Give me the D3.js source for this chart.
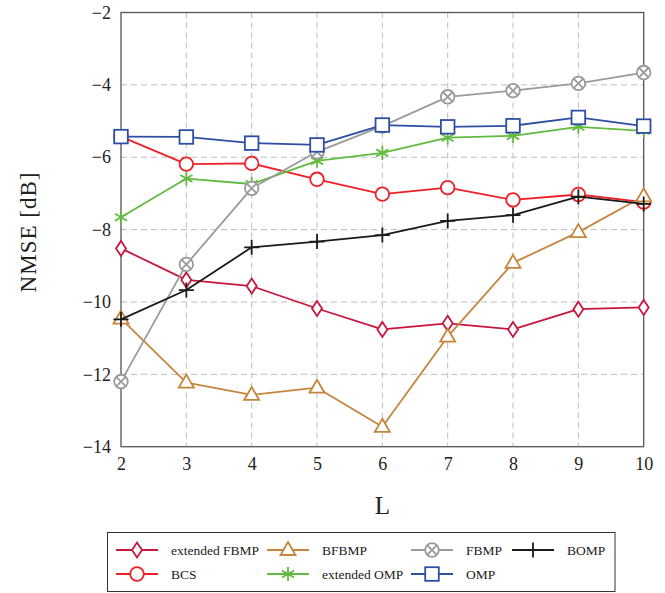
<!DOCTYPE html>
<html>
<head>
<meta charset="utf-8">
<script src="https://cdn.jsdelivr.net/npm/d3@7"></script>
<style>
  html, body { margin: 0; padding: 0; background: #fff; }
  svg { display: block; }
  svg text { font-family: "Liberation Serif", "DejaVu Serif", serif; }
</style>
</head>
<body>
<svg id="chart" width="665" height="593"></svg>
<script>
// Sparsity level L
const L = [2, 3, 4, 5, 6, 7, 8, 9, 10];

// NMSE in dB for each algorithm
const extendedFBMP = [-8.52, -9.39, -9.56, -10.18, -10.76, -10.59, -10.76, -10.20, -10.15];
const bcs          = [-5.43, -6.19, -6.17, -6.61, -7.02, -6.84, -7.18, -7.03, -7.24];
const bfbmp        = [-10.46, -12.23, -12.57, -12.37, -13.45, -10.96, -8.92, -8.07, -7.08];
const extendedOMP  = [-7.66, -6.59, -6.74, -6.10, -5.88, -5.46, -5.41, -5.16, -5.27];
const fbmp         = [-12.20, -8.96, -6.86, -5.85, -5.14, -4.33, -4.16, -3.96, -3.66];
const omp          = [-5.43, -5.44, -5.61, -5.66, -5.11, -5.16, -5.13, -4.90, -5.14];
const bomp         = [-10.48, -9.67, -8.49, -8.33, -8.15, -7.76, -7.60, -7.09, -7.29];

const yTicks = [-2, -4, -6, -8, -10, -12, -14];
const xTicks = [2, 3, 4, 5, 6, 7, 8, 9, 10];

const series = [
  { name: "extended FBMP", values: extendedFBMP, color: "#c8173f", marker: "diamond" },
  { name: "BCS",           values: bcs,          color: "#ef1f26", marker: "circle" },
  { name: "BFBMP",         values: bfbmp,        color: "#c6853c", marker: "triangle" },
  { name: "extended OMP",  values: extendedOMP,  color: "#62bb3f", marker: "star" },
  { name: "FBMP",          values: fbmp,         color: "#9a9a9a", marker: "otimes" },
  { name: "OMP",           values: omp,          color: "#2d4ea2", marker: "square" },
  { name: "BOMP",          values: bomp,         color: "#1a1a1a", marker: "plus" }
];

const svg = d3.select("#chart");
const plotLeft = 121, plotRight = 643.7, plotTop = 12.5, plotBottom = 446.7;

const x = d3.scaleLinear().domain([2, 10]).range([plotLeft, plotRight]);
const y = d3.scaleLinear().domain([-14, -2]).range([plotBottom, plotTop]);

// dashed grid
const grid = svg.append("g");
grid.selectAll("line.vx").data(xTicks.slice(1, -1)).join("line")
  .attr("x1", d => x(d)).attr("x2", d => x(d))
  .attr("y1", plotTop).attr("y2", plotBottom)
  .attr("stroke", "#bdbdbd").attr("stroke-width", 1).attr("stroke-dasharray", "6,4");
grid.selectAll("line.hy").data(yTicks.slice(1, -1)).join("line")
  .attr("x1", plotLeft).attr("x2", plotRight)
  .attr("y1", d => y(d)).attr("y2", d => y(d))
  .attr("stroke", "#bdbdbd").attr("stroke-width", 1).attr("stroke-dasharray", "6,4");

// axes
const fmt = d => (d < 0 ? "\u2212" + Math.abs(d) : String(d));
const xAxis = svg.append("g").attr("transform", `translate(0,${plotBottom})`)
  .call(d3.axisBottom(x).tickValues(xTicks).tickFormat(fmt).tickSize(0).tickPadding(0));
const yAxis = svg.append("g").attr("transform", `translate(${plotLeft},0)`)
  .call(d3.axisLeft(y).tickValues(yTicks).tickFormat(fmt).tickSize(0).tickPadding(10));
[xAxis, yAxis].forEach(a => {
  a.attr("font-family", null).attr("font-size", null);
  a.select(".domain").remove();
  a.selectAll("text").attr("font-size", 18).attr("fill", "#222");
});
xAxis.selectAll("text").attr("y", 23).attr("dy", 0);

// frame
svg.append("rect").attr("x", plotLeft).attr("y", plotTop)
  .attr("width", plotRight - plotLeft).attr("height", plotBottom - plotTop)
  .attr("fill", "none").attr("stroke", "#555").attr("stroke-width", 1.3);

// axis titles
svg.append("text").attr("x", (plotLeft + plotRight) / 2).attr("y", 514)
  .attr("text-anchor", "middle").attr("font-size", 25).attr("fill", "#222").text("L");
svg.append("text").attr("transform", `translate(36,232) rotate(-90)`)
  .attr("text-anchor", "middle").attr("font-size", 23).attr("letter-spacing", 1)
  .attr("fill", "#222").text("NMSE [dB]");

// marker drawing
function drawMarker(g, type, color) {
  const sw = 1.8;
  switch (type) {
    case "diamond":
      g.append("path").attr("d", "M0,-7.5L5,0L0,7.5L-5,0Z")
        .attr("fill", "#fff").attr("stroke", color).attr("stroke-width", sw);
      break;
    case "circle":
      g.append("circle").attr("r", 6.8)
        .attr("fill", "#fff").attr("stroke", color).attr("stroke-width", sw);
      break;
    case "triangle":
      g.append("path").attr("d", "M0,-8L7.5,5L-7.5,5Z")
        .attr("fill", "#fff").attr("stroke", color).attr("stroke-width", sw);
      break;
    case "square":
      g.append("rect").attr("x", -6.8).attr("y", -6.8).attr("width", 13.6).attr("height", 13.6)
        .attr("fill", "#fff").attr("stroke", color).attr("stroke-width", sw);
      break;
    case "otimes": {
      const r = 6.8, k = r * Math.SQRT1_2;
      g.append("circle").attr("r", r)
        .attr("fill", "#fff").attr("stroke", color).attr("stroke-width", sw);
      g.append("path").attr("d", `M${-k},${-k}L${k},${k}M${-k},${k}L${k},${-k}`)
        .attr("stroke", color).attr("stroke-width", sw);
      break;
    }
    case "star": {
      const r = 7;
      let d = "";
      for (let i = 0; i < 3; i++) {
        const a = Math.PI / 2 + i * Math.PI / 3;
        d += `M${r * Math.cos(a)},${r * Math.sin(a)}L${-r * Math.cos(a)},${-r * Math.sin(a)}`;
      }
      g.append("path").attr("d", d).attr("stroke", color).attr("stroke-width", sw);
      break;
    }
    case "plus":
      g.append("path").attr("d", "M-7.5,0L7.5,0M0,-7.5L0,7.5")
        .attr("stroke", color).attr("stroke-width", sw);
      break;
  }
}

const line = d3.line().x((d, i) => x(L[i])).y(d => y(d));

series.forEach(s => {
  const g = svg.append("g");
  g.append("path").datum(s.values).attr("d", line)
    .attr("fill", "none").attr("stroke", s.color).attr("stroke-width", 1.8)
    .attr("stroke-linejoin", "round");
  s.values.forEach((v, i) => {
    const m = g.append("g").attr("transform", `translate(${x(L[i])},${y(v)})`);
    drawMarker(m, s.marker, s.color);
  });
});

// legend: 4 columns, filled column by column across two rows
const legend = svg.append("g");
legend.append("rect").attr("x", 107.5).attr("y", 532.5).attr("width", 507.5).attr("height", 59)
  .attr("fill", "#fff").attr("stroke", "#333").attr("stroke-width", 1);
const colX = [116, 267, 411, 512];
const rowY = [550, 574];
series.forEach((s, i) => {
  const col = Math.floor(i / 2), row = i % 2;
  const lx = colX[col], ly = rowY[row];
  const g = legend.append("g");
  g.append("line").attr("x1", lx).attr("x2", lx + 42).attr("y1", ly).attr("y2", ly)
    .attr("stroke", s.color).attr("stroke-width", 1.8);
  const m = g.append("g").attr("transform", `translate(${lx + 21},${ly})`);
  drawMarker(m, s.marker, s.color);
  g.append("text").attr("x", lx + 55).attr("y", ly).attr("dy", "0.35em")
    .attr("font-size", 13.5).attr("fill", "#222").text(s.name);
});
</script>
</body>
</html>
